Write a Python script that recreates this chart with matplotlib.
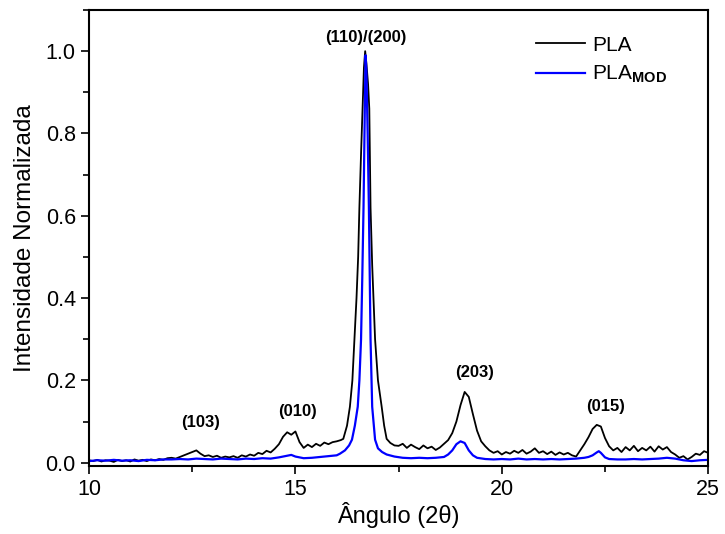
"""XRD patterns of PLA and modified PLA (normalised intensity)."""

import matplotlib

matplotlib.use("Agg")
import matplotlib.pyplot as plt
from matplotlib.ticker import MultipleLocator

plt.rcParams["font.family"] = ["Liberation Sans", "DejaVu Sans"]
plt.rcParams["mathtext.fontset"] = "custom"
plt.rcParams["mathtext.rm"] = "Liberation Sans"
plt.rcParams["mathtext.bf"] = "Liberation Sans:bold"

# PLA (black)
pla_x = [
    10.0, 10.1, 10.2, 10.3, 10.4, 10.5, 10.6, 10.7, 10.8, 10.9,
    11.0, 11.1, 11.2, 11.3, 11.4, 11.5, 11.6, 11.7, 11.8, 11.9,
    12.0, 12.1, 12.2, 12.3, 12.4, 12.5, 12.6, 12.7, 12.8, 12.9,
    13.0, 13.1, 13.2, 13.3, 13.4, 13.5, 13.6, 13.7, 13.8, 13.9,
    14.0, 14.1, 14.2, 14.3, 14.4, 14.5, 14.6, 14.7, 14.8, 14.9,
    15.0, 15.1, 15.2, 15.3, 15.4, 15.5, 15.6, 15.7, 15.8, 15.9,
    16.0, 16.1, 16.16, 16.25, 16.32, 16.38, 16.43, 16.48, 16.52, 16.55,
    16.59, 16.63, 16.66, 16.69, 16.72, 16.76, 16.79, 16.82, 16.86, 16.93,
    17.0, 17.09, 17.15, 17.21, 17.3, 17.4, 17.5, 17.6, 17.7, 17.8, 17.9,
    18.0, 18.1, 18.2, 18.3, 18.4, 18.5, 18.6, 18.7, 18.8, 18.9,
    19.0, 19.1, 19.2, 19.3, 19.4, 19.5, 19.6, 19.7, 19.8, 19.9,
    20.0, 20.1, 20.2, 20.3, 20.4, 20.5, 20.6, 20.7, 20.8, 20.9,
    21.0, 21.1, 21.2, 21.3, 21.4, 21.5, 21.6, 21.7, 21.8, 21.9,
    22.0, 22.1, 22.2, 22.3, 22.4, 22.5, 22.6, 22.7, 22.8, 22.9,
    23.0, 23.1, 23.2, 23.3, 23.4, 23.5, 23.6, 23.7, 23.8, 23.9,
    24.0, 24.1, 24.2, 24.3, 24.4, 24.5, 24.6, 24.7, 24.8, 24.9,
    25.0,
]
pla_y = [
    0.006, 0.004, 0.007, 0.003, 0.006, 0.005, 0.002, 0.007, 0.004, 0.006,
    0.003, 0.008, 0.005, 0.007, 0.004, 0.008, 0.006, 0.009, 0.007, 0.011,
    0.012, 0.010, 0.014, 0.018, 0.022, 0.026, 0.030, 0.022, 0.016, 0.018,
    0.014, 0.017, 0.012, 0.015, 0.013, 0.016, 0.012, 0.018, 0.015, 0.020,
    0.017, 0.024, 0.021, 0.029, 0.025, 0.034, 0.045, 0.063, 0.074, 0.068,
    0.076, 0.050, 0.036, 0.044, 0.038, 0.046, 0.041, 0.049, 0.045, 0.050,
    0.052, 0.055, 0.058, 0.090, 0.136, 0.200, 0.300, 0.400, 0.500, 0.620,
    0.750, 0.870, 0.960, 1.000, 0.970, 0.920, 0.860, 0.620, 0.480, 0.300,
    0.200, 0.136, 0.090, 0.058, 0.048, 0.042, 0.041, 0.046, 0.036, 0.044, 0.038,
    0.033, 0.042, 0.035, 0.039, 0.031, 0.037, 0.046, 0.055, 0.072, 0.100,
    0.140, 0.172, 0.160, 0.118, 0.078, 0.052, 0.040, 0.030, 0.024, 0.028,
    0.020, 0.026, 0.022, 0.029, 0.024, 0.031, 0.022, 0.027, 0.035, 0.024,
    0.028, 0.021, 0.027, 0.019, 0.025, 0.020, 0.024, 0.018, 0.015, 0.030,
    0.045, 0.062, 0.082, 0.092, 0.088, 0.060, 0.040, 0.030, 0.036, 0.026,
    0.038, 0.030, 0.041, 0.028, 0.036, 0.030, 0.039, 0.027, 0.040, 0.032,
    0.038, 0.026, 0.020, 0.012, 0.016, 0.008, 0.014, 0.022, 0.019, 0.028,
    0.024,
]

# PLA_MOD (blue)
mod_x = [
    10.0, 10.2, 10.4, 10.6, 10.8, 11.0, 11.2, 11.4, 11.6, 11.8,
    12.0, 12.2, 12.4, 12.6, 12.8, 13.0, 13.2, 13.4, 13.6, 13.8,
    14.0, 14.2, 14.4, 14.6, 14.8, 14.9, 15.0, 15.2, 15.4, 15.6,
    15.8, 16.0, 16.08, 16.2, 16.3, 16.37, 16.44, 16.51, 16.55, 16.59,
    16.62, 16.65, 16.68, 16.7, 16.72, 16.75, 16.78, 16.82, 16.86, 16.93,
    17.0, 17.1, 17.21, 17.4, 17.6, 17.8, 18.0, 18.2, 18.4, 18.6, 18.7,
    18.8, 18.9, 19.0, 19.1, 19.2, 19.3, 19.4, 19.6, 19.8, 20.0,
    20.2, 20.4, 20.6, 20.8, 21.0, 21.2, 21.4, 21.6, 21.8, 22.0,
    22.1, 22.2, 22.3, 22.35, 22.4, 22.5, 22.6, 22.8, 23.0, 23.2,
    23.4, 23.6, 23.8, 24.0, 24.2, 24.4, 24.6, 24.8, 25.0,
]
mod_y = [
    0.004, 0.006, 0.005, 0.007, 0.005, 0.006, 0.004, 0.007, 0.006, 0.008,
    0.008, 0.009, 0.008, 0.010, 0.009, 0.008, 0.010, 0.009, 0.008, 0.010,
    0.009, 0.011, 0.010, 0.013, 0.017, 0.019, 0.015, 0.011, 0.012, 0.014,
    0.016, 0.018, 0.022, 0.030, 0.042, 0.056, 0.090, 0.136, 0.200, 0.300,
    0.450, 0.620, 0.850, 0.990, 0.950, 0.800, 0.620, 0.300, 0.136, 0.056,
    0.035, 0.026, 0.020, 0.015, 0.012, 0.011, 0.012, 0.011, 0.012, 0.014, 0.020,
    0.030, 0.045, 0.052, 0.048, 0.030, 0.018, 0.012, 0.009, 0.008, 0.009,
    0.008, 0.010, 0.008, 0.009, 0.008, 0.009, 0.008, 0.009, 0.010, 0.012,
    0.014, 0.018, 0.025, 0.028, 0.024, 0.013, 0.009, 0.008, 0.008, 0.009,
    0.008, 0.009, 0.010, 0.012, 0.010, 0.006, 0.004, 0.006, 0.007,
]

# peak labels (centre positions)
peak_labels = ["(103)", "(010)", "(110)/(200)", "(203)", "(015)"]
peak_lx = [12.7, 15.04, 16.71, 19.33, 22.52]
peak_ly = [0.097, 0.124, 1.034, 0.219, 0.136]

fig = plt.figure(figsize=(7.25, 5.34), dpi=100)
ax = fig.add_axes([0.1228, 0.1273, 0.854, 0.854])

ax.plot(pla_x, pla_y, color="black", lw=1.3, label="PLA")
ax.plot(mod_x, mod_y, color="#0000ff", lw=1.6, label=r"PLA$_{\mathbf{MOD}}$")

for txt, lx, ly in zip(peak_labels, peak_lx, peak_ly):
    ax.text(lx, ly, txt, ha="center", va="center", fontsize=12, fontweight="bold")

ax.set_xlim(10, 25)
ax.set_ylim(-0.008, 1.1)
ax.xaxis.set_major_locator(MultipleLocator(5))
ax.xaxis.set_minor_locator(MultipleLocator(2.5))
ax.yaxis.set_major_locator(MultipleLocator(0.2))
ax.yaxis.set_minor_locator(MultipleLocator(0.1))
ax.tick_params(which="major", direction="out", length=6, width=1.2, labelsize=15.5)
ax.tick_params(which="minor", direction="out", length=4, width=1.2)
for sp in ax.spines.values():
    sp.set_linewidth(1.5)

ax.set_xlabel("Ângulo (2θ)", fontsize=17, labelpad=1)
ax.set_ylabel("Intensidade Normalizada", fontsize=17.5, labelpad=7)

ax.legend(loc="upper left", bbox_to_anchor=(0.722, 0.944), frameon=False,
          fontsize=15, handlelength=2.35, handletextpad=0.35, labelspacing=0.45,
          borderpad=0, borderaxespad=0)

fig.savefig("out.png", dpi=100)
